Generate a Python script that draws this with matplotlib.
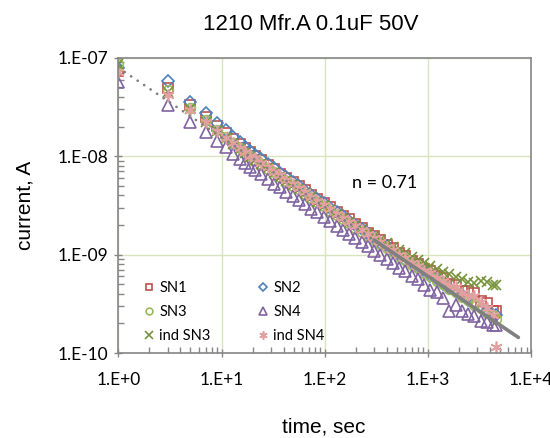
import numpy as np
import matplotlib
matplotlib.use("Agg")
import matplotlib.pyplot as plt
from matplotlib.ticker import LogLocator, FixedFormatter, FixedLocator, NullFormatter

# ===================== 数据 =====================
# 时间 (s)
time_s = [1, 3, 5, 7, 9, 11, 13, 15, 17, 19,
          21, 24, 28, 32, 37, 42, 49, 56, 64, 74,
          85, 98, 113, 130, 149, 171, 197, 227, 261, 300,
          345, 397, 456, 525, 603, 694, 798, 918, 1055, 1214,
          1396, 1605, 1846, 2123, 2441, 2807, 3228, 3713, 4270, 4600]

# 电流 (nA)
sn1 = [74.0, 49.3, 33.2, 25.1, 20.2, 17.1, 14.9, 13.2, 12.0, 11.0,
       10.1, 9.15, 8.20, 7.40, 6.67, 6.05, 5.48, 4.93, 4.53, 4.04,
       3.70, 3.32, 3.02, 2.72, 2.49, 2.28, 2.04, 1.86, 1.67, 1.54,
       1.40, 1.25, 1.16, 1.04, 0.961, 0.861, 0.801, 0.720, 0.675, 0.601,
       0.574, 0.506, 0.494, 0.422, 0.427, 0.405, 0.341, 0.322, 0.269, 0.265]
sn2 = [79.5, 57.7, 35.2, 27.3, 21.8, 18.4, 15.8, 13.9, 12.5, 11.4,
       10.4, 9.40, 8.35, 7.54, 6.74, 6.16, 5.48, 4.98, 4.48, 4.08,
       3.67, 3.32, 2.97, 2.72, 2.45, 2.22, 1.98, 1.81, 1.63, 1.48,
       1.32, 1.21, 1.09, 0.993, 0.892, 0.815, 0.731, 0.675, 0.606, 0.560,
       0.502, 0.463, 0.416, 0.387, 0.345, 0.324, 0.288, 0.270, 0.241, 0.241]
sn3 = [87.5, 46.7, 30.6, 23.1, 18.5, 15.6, 13.6, 12.1, 10.9, 10.0,
       9.22, 8.39, 7.44, 6.85, 6.12, 5.65, 5.02, 4.61, 4.15, 3.78,
       3.40, 3.10, 2.77, 2.54, 2.29, 2.09, 1.87, 1.71, 1.55, 1.42,
       1.27, 1.16, 1.066, 0.955, 0.884, 0.792, 0.731, 0.656, 0.606, 0.544,
       0.502, 0.450, 0.420, 0.373, 0.348, 0.309, 0.288, 0.256, 0.241, 0.224]
sn4 = [57.2, 32.9, 22.4, 17.7, 14.4, 12.3, 10.6, 9.48, 8.56, 7.82,
       7.28, 6.54, 5.87, 5.27, 4.82, 4.35, 3.95, 3.55, 3.27, 2.91,
       2.68, 2.39, 2.18, 1.96, 1.80, 1.61, 1.47, 1.33, 1.22, 1.10,
       1.00, 0.897, 0.826, 0.738, 0.686, 0.613, 0.562, 0.497, 0.439, 0.418,
       0.365, 0.266, 0.311, 0.268, 0.249, 0.237, 0.210, 0.209, 0.194, 0.194]
ind_sn3 = [85.9, 44.5, 30.1, 22.5, 18.1, 15.3, 13.3, 11.9, 10.8, 9.90,
           9.22, 8.31, 7.52, 6.78, 6.18, 5.59, 5.07, 4.61, 4.19, 3.82,
           3.43, 3.13, 2.86, 2.59, 2.38, 2.17, 1.98, 1.81, 1.67, 1.54,
           1.41, 1.30, 1.20, 1.11, 1.03, 0.954, 0.886, 0.828, 0.773, 0.722,
           0.673, 0.631, 0.591, 0.563, 0.530, 0.514, 0.537, 0.533, 0.495, 0.490]
ind_sn4 = [71.6, 42.0, 29.3, 22.1, 18.0, 15.3, 13.5, 12.1, 11.0, 10.1,
           9.50, 8.56, 7.75, 6.99, 6.37, 5.76, 5.22, 4.70, 4.32, 3.86,
           3.53, 3.16, 2.88, 2.59, 2.38, 2.15, 1.97, 1.76, 1.61, 1.47,
           1.33, 1.20, 1.11, 0.993, 0.927, 0.823, 0.773, 0.688, 0.646, 0.575,
           0.545, 0.480, 0.467, 0.405, 0.389, 0.376, 0.328, 0.284, 0.241, 0.116]

# 幂律拟合线 (n = 0.71)
fit_t = [1, 7500]
fit_i = [79.5, 0.144]          # nA
fit_solid_t = [300, 7500]
fit_solid_i = [1.41, 0.144]    # nA

x_ticks = [1, 10, 100, 1000, 10000]
x_tick_labels = ["1.E+0", "1.E+1", "1.E+2", "1.E+3", "1.E+4"]
y_ticks = [1e-10, 1e-9, 1e-8, 1e-7]
y_tick_labels = ["1.E-10", "1.E-09", "1.E-08", "1.E-07"]

# ===================== 样式 =====================
series = [
    ("SN1", sn1, dict(marker="s", ms=7.0, mec="#C0504D", mfc="none", mew=1.2)),
    ("SN2", sn2, dict(marker="D", ms=6.2, mec="#4F81BD", mfc="none", mew=1.2)),
    ("SN3", sn3, dict(marker="o", ms=7.0, mec="#9BBB59", mfc="none", mew=1.2)),
    ("SN4", sn4, dict(marker="^", ms=8.5, mec="#8064A2", mfc="none", mew=1.2)),
    ("ind SN3", ind_sn3, dict(marker="x", ms=7.5, mec="#77933C", mew=1.2)),
    ("ind SN4", ind_sn4, dict(marker=(6, 2, 0), ms=8.5, mec="#E2A0A0", mew=1.2)),
]

GRID_C = "#D7E4BD"
SPINE_C = "#868686"
TICK_FONT = ["Lato", "DejaVu Sans"]
LABEL_FONT = ["Liberation Sans", "DejaVu Sans"]

fig = plt.figure(figsize=(5.5, 4.38), dpi=100)
ax = fig.add_axes([0.215, 0.194, 0.751, 0.674])

t = np.array(time_s, dtype=float)
handles = {}
for name, vals, st in series:
    h, = ax.plot(t, np.array(vals) * 1e-9, ls="none", label=name, **st)
    handles[name] = h

# 拟合线：前段点线，后段密集为实线
ax.plot(fit_t, np.array(fit_i) * 1e-9, color="#808080", lw=2.0,
        ls=(0, (0.01, 2.8)), dash_capstyle="round", zorder=5)
ax.plot(fit_solid_t, np.array(fit_solid_i) * 1e-9, color="#808080", lw=2.6,
        solid_capstyle="round", zorder=5)

ax.set_xscale("log")
ax.set_yscale("log")
ax.set_xlim(1, 1e4)
ax.set_ylim(1e-10, 1e-7)

ax.xaxis.set_major_locator(FixedLocator(x_ticks))
ax.xaxis.set_major_formatter(FixedFormatter(x_tick_labels))
ax.yaxis.set_major_locator(FixedLocator(y_ticks))
ax.yaxis.set_major_formatter(FixedFormatter(y_tick_labels))
ax.xaxis.set_minor_locator(LogLocator(base=10, subs=np.arange(2, 10), numticks=20))
ax.yaxis.set_minor_locator(LogLocator(base=10, subs=np.arange(2, 10), numticks=20))
ax.xaxis.set_minor_formatter(NullFormatter())
ax.yaxis.set_minor_formatter(NullFormatter())

ax.tick_params(which="major", direction="inout", length=6, width=1, color=SPINE_C,
               labelsize=12.5)
ax.tick_params(axis="x", which="major", pad=11)
ax.tick_params(axis="y", which="major", pad=4)
ax.tick_params(which="minor", direction="in", length=4, width=1, color=SPINE_C)
ax.tick_params(axis="y", which="both", left=True, right=False)
ax.tick_params(axis="x", which="both", bottom=True, top=False)
for lab in ax.get_xticklabels() + ax.get_yticklabels():
    lab.set_family(TICK_FONT)

for sp in ax.spines.values():
    sp.set_color(SPINE_C)
    sp.set_linewidth(1.2)

ax.grid(True, which="major", color=GRID_C, lw=1.0)
ax.set_axisbelow(True)

fig.text(0.565, 0.945, "1210 Mfr.A 0.1uF 50V", ha="center", va="center",
         fontsize=16, family=LABEL_FONT)
fig.text(0.045, 0.531, "current, A", rotation=90, ha="center", va="center",
         fontsize=15, family=LABEL_FONT)
fig.text(0.589, 0.026, "time, sec", ha="center", va="center",
         fontsize=15, family=LABEL_FONT)
ax.text(0.644, 0.576, "n = 0.71", transform=ax.transAxes, ha="center", va="center",
        fontsize=13, family=TICK_FONT)

# 图例：两列三行
order = ["SN1", "SN3", "ind SN3", "SN2", "SN4", "ind SN4"]
leg = ax.legend([handles[k] for k in order], order, loc="lower left",
                bbox_to_anchor=(0.06, 0.035), ncol=2, frameon=False,
                handlelength=0.8, handletextpad=0.3, columnspacing=3.2,
                labelspacing=0.68, borderpad=0, borderaxespad=0, markerscale=0.7,
                prop={"family": TICK_FONT, "size": 10.5})

fig.savefig("out.png", dpi=100)
